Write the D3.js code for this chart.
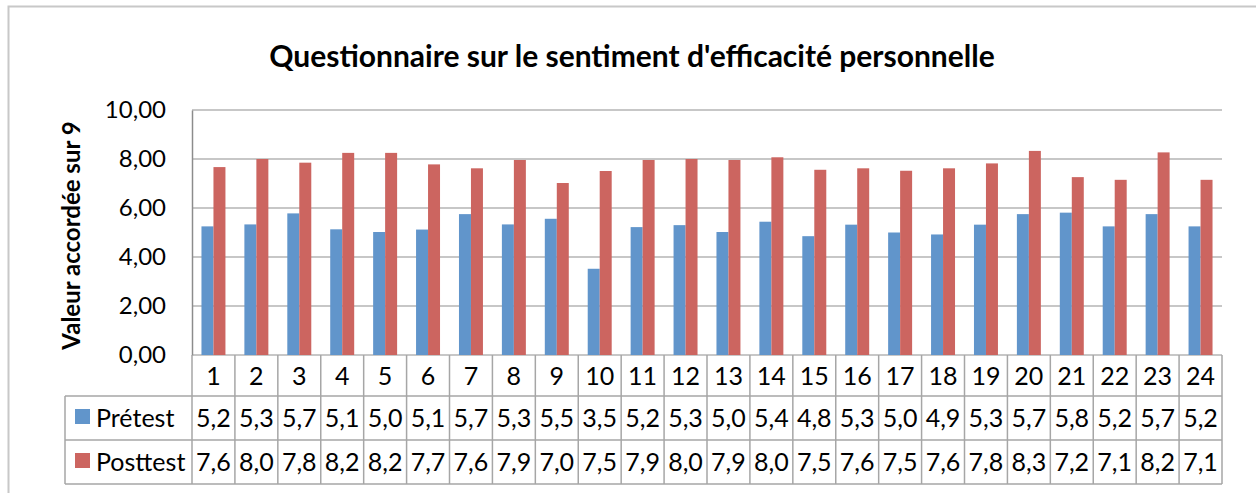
<!DOCTYPE html>
<html>
<head>
<meta charset="utf-8">
<script src="https://cdn.jsdelivr.net/npm/d3@7"></script>
<style>
  body { margin: 0; background: #fff; }
  svg { font-family: Lato, "Open Sans", sans-serif; }
</style>
</head>
<body>
<svg id="chart"></svg>
<script>
// chart size
const width = 1256, height = 493;

// data
const categories = d3.range(1, 25).map(String);
const seriesNames = ["Prétest", "Posttest"];
const pretest = [5.25, 5.33, 5.78, 5.13, 5.02, 5.12, 5.75, 5.33, 5.56, 3.52, 5.22, 5.3,
                 5.02, 5.44, 4.85, 5.32, 5.0, 4.92, 5.32, 5.75, 5.81, 5.25, 5.75, 5.25];
const posttest = [7.67, 8.0, 7.85, 8.25, 8.25, 7.78, 7.62, 7.96, 7.02, 7.51, 7.96, 8.0,
                  7.96, 8.07, 7.56, 7.62, 7.52, 7.62, 7.82, 8.33, 7.26, 7.15, 8.27, 7.15];
const yTicks = [0, 2, 4, 6, 8, 10];
const colors = ["#6195cb", "#cc6560"];

const series = [pretest, posttest];

const fr = d3.formatLocale({decimal: ",", thousands: " ", grouping: [3], currency: ["", " €"]});
const fmt2 = fr.format(".2f");
const fmt1 = fr.format(".1f");
// the data table shows values cut to one decimal
const cut = v => fmt1(Math.floor(v * 10 + 1e-9) / 10);

const svg = d3.select("#chart")
    .attr("width", width)
    .attr("height", height);

// outer chart border
svg.append("rect")
    .attr("x", 8.5).attr("y", 6.5)
    .attr("width", width + 20).attr("height", height + 20)
    .attr("fill", "#fff")
    .attr("stroke", "#c8c8c8")
    .attr("stroke-width", 2);

const plot = {left: 192, right: 1222, top: 110, bottom: 355};

const x0 = d3.scaleBand()
    .domain(categories)
    .range([plot.left, plot.right])
    .padding(0);

const x1 = d3.scaleBand()
    .domain(seriesNames)
    .range([0, x0.bandwidth()])
    .paddingInner(0)
    .paddingOuter(0.79);

const y = d3.scaleLinear()
    .domain([0, 10])
    .range([plot.bottom, plot.top]);

// title
svg.append("text")
    .attr("x", 632).attr("y", 67)
    .attr("text-anchor", "middle")
    .attr("font-size", "30px")
    .attr("font-weight", "bold")
    .text("Questionnaire sur le sentiment d'efficacité personnelle");

// gridlines
svg.append("g")
    .selectAll("line")
    .data(yTicks)
    .enter().append("line")
    .attr("x1", plot.left).attr("x2", plot.right)
    .attr("y1", d => y(d)).attr("y2", d => y(d))
    .attr("stroke", "#b4b4b4")
    .attr("stroke-width", 1.5);

// y axis
const yAxis = svg.append("g")
    .attr("transform", "translate(" + plot.left + ",0)")
    .call(d3.axisLeft(y).tickValues(yTicks).tickFormat(fmt2).tickSize(0).tickPadding(26));
yAxis.select(".domain").attr("stroke", "#8c8c8c").attr("stroke-width", 1.5);
yAxis.selectAll("text")
    .attr("font-size", "24px")
    .attr("font-family", "Lato, sans-serif")
    .attr("fill", "#000");

// y axis title
svg.append("text")
    .attr("transform", "translate(80," + (plot.top + plot.bottom + 6) / 2 + ") rotate(-90)")
    .attr("text-anchor", "middle")
    .attr("font-size", "24px")
    .attr("font-weight", "bold")
    .text("Valeur accordée sur 9");

// bars
const groups = svg.append("g")
    .selectAll("g")
    .data(categories)
    .enter().append("g")
    .attr("transform", d => "translate(" + x0(d) + ",0)");

groups.selectAll("rect")
    .data((d, i) => seriesNames.map((s, j) => ({s: s, v: series[j][i], j: j})))
    .enter().append("rect")
    .attr("x", d => x1(d.s))
    .attr("width", x1.bandwidth())
    .attr("y", d => y(d.v))
    .attr("height", d => y(0) - y(d.v))
    .attr("fill", d => colors[d.j]);

// data table
const rowTop = [355, 396, 440];
const rowBottom = [396, 440, 484];
const tableLeft = 65;
const lineColor = "#a6a6a6";
const table = svg.append("g");

// horizontal lines
[rowTop[1], rowBottom[1], rowBottom[2]].forEach(yy => {
    table.append("line")
        .attr("x1", tableLeft).attr("x2", plot.right)
        .attr("y1", yy).attr("y2", yy)
        .attr("stroke", lineColor).attr("stroke-width", 1.5);
});

// vertical lines
const edges = categories.map(c => x0(c)).concat([plot.right]);
table.selectAll(".vline")
    .data(edges)
    .enter().append("line")
    .attr("class", "vline")
    .attr("x1", d => d).attr("x2", d => d)
    .attr("y1", rowTop[0]).attr("y2", rowBottom[2])
    .attr("stroke", lineColor).attr("stroke-width", 1.5);
table.append("line")
    .attr("x1", tableLeft).attr("x2", tableLeft)
    .attr("y1", rowTop[1]).attr("y2", rowBottom[2])
    .attr("stroke", lineColor).attr("stroke-width", 1.5);

// category numbers
table.selectAll(".cat")
    .data(categories)
    .enter().append("text")
    .attr("class", "cat")
    .attr("x", d => x0(d) + x0.bandwidth() / 2)
    .attr("y", (rowTop[0] + rowBottom[0]) / 2)
    .attr("dy", "0.36em")
    .attr("text-anchor", "middle")
    .attr("font-size", "25px")
    .text(d => d);

// values and legend keys
series.forEach((vals, j) => {
    const cy = (rowTop[j + 1] + rowBottom[j + 1]) / 2;
    table.selectAll(".val" + j)
        .data(vals)
        .enter().append("text")
        .attr("class", "val" + j)
        .attr("x", (d, i) => x0(categories[i]) + x0.bandwidth() / 2)
        .attr("y", cy)
        .attr("dy", "0.36em")
        .attr("text-anchor", "middle")
        .attr("font-size", "25px")
        .text(d => cut(d));
    table.append("rect")
        .attr("x", 75).attr("y", cy - 9)
        .attr("width", 15).attr("height", 15)
        .attr("fill", colors[j]);
    table.append("text")
        .attr("x", 96).attr("y", cy)
        .attr("dy", "0.36em")
        .attr("font-size", "25px")
        .text(seriesNames[j]);
});
</script>
</body>
</html>
